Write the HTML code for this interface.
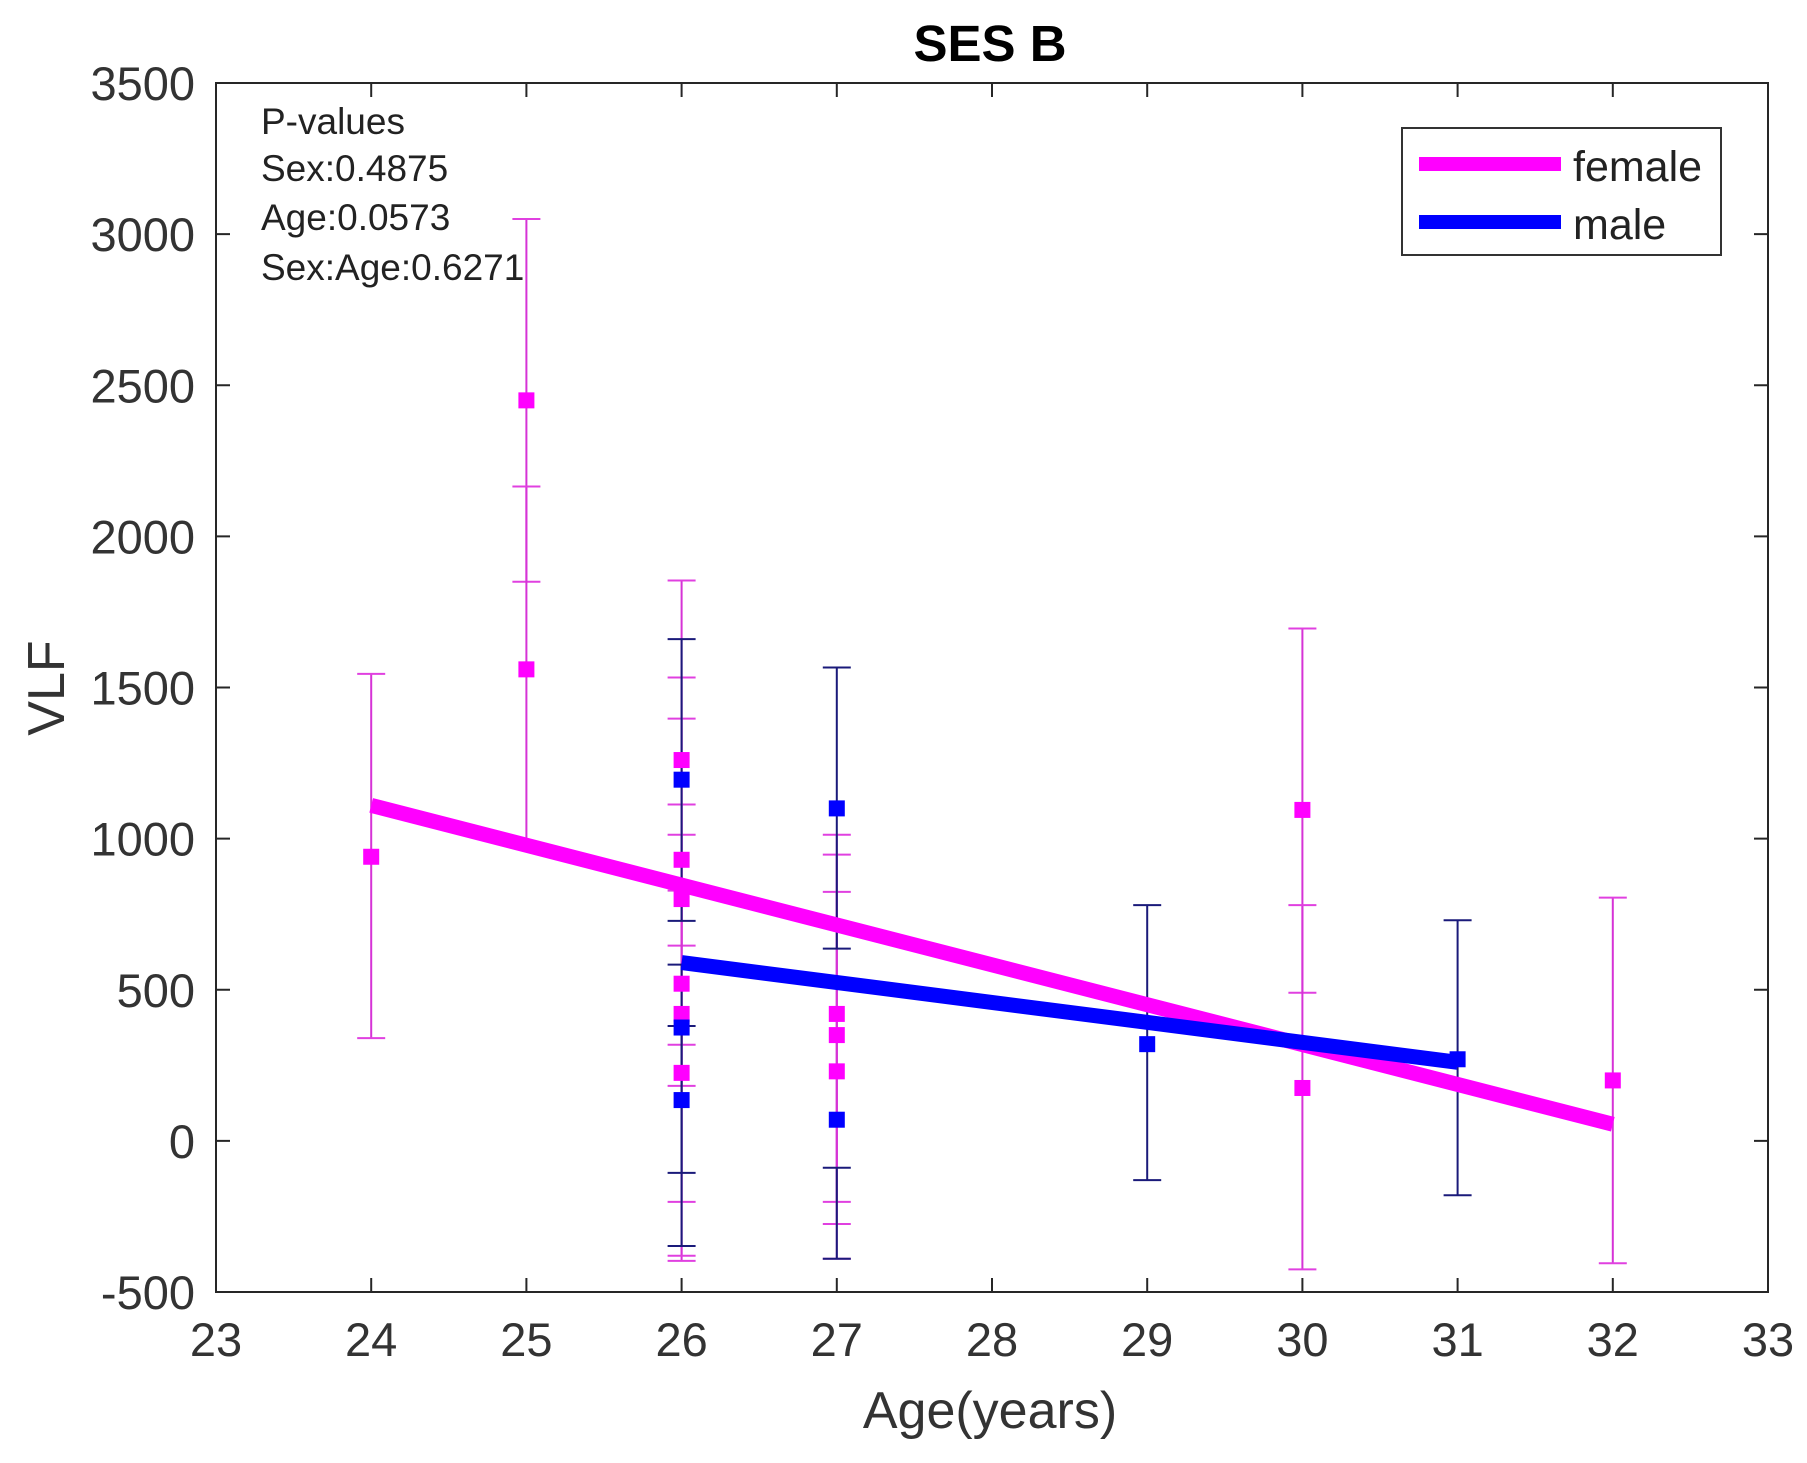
<!DOCTYPE html>
<html><head><meta charset="utf-8"><style>
body{margin:0;background:#fff;}
svg{display:block;font-family:"Liberation Sans",Arial,sans-serif;}
</style></head><body>
<svg id="chart" width="1807" height="1463" viewBox="0 0 1807 1463">
<rect width="1807" height="1463" fill="#fff"/>
<text x="990" y="61" text-anchor="middle" font-size="51" font-weight="bold" fill="#000">SES B</text>
<g id="plot"></g>
<g font-size="37" fill="#222">
<text x="261" y="134">P-values</text>
<text x="261" y="181">Sex:0.4875</text>
<text x="261" y="230">Age:0.0573</text>
<text x="261" y="280">Sex:Age:0.6271</text>
</g>
<text x="990" y="1428" text-anchor="middle" font-size="52" fill="#333">Age(years)</text>
<text transform="translate(64,688) rotate(-90)" text-anchor="middle" font-size="52" fill="#333">VLF</text>
<g>
<rect x="1402" y="128" width="319" height="127" fill="#fff" stroke="#333" stroke-width="2"/>
<line x1="1419" y1="164" x2="1561" y2="164" stroke="#ff00ff" stroke-width="14"/>
<text x="1573" y="181" font-size="43" fill="#222">female</text>
<line x1="1419" y1="222" x2="1561" y2="222" stroke="#0000ff" stroke-width="14"/>
<text x="1573" y="239" font-size="43" fill="#222">male</text>
</g>
</svg>
<script>
const xTicks=[23,24,25,26,27,28,29,30,31,32,33];
const yTicks=[-500,0,500,1000,1500,2000,2500,3000,3500];
const femaleAge=[24,25,25,26,26,26,26,26,26,27,27,27,30,30,32];
const femaleVal=[940,2450,1560,1260,930,800,520,420,225,420,350,230,1095,175,200];
const femaleLow=[340,1850,970,646,318,182,-202,-397,-380,-202,-275,-390,490,-425,-405];
const femaleHigh=[1545,3050,2165,1854,1533,1397,1113,1013,828,1013,947,824,1695,780,805];
const maleAge=[26,26,26,27,27,29,31];
const maleVal=[1195,375,135,1100,70,320,270];
const maleLow=[728,-348,-106,636,-390,-130,-180];
const maleHigh=[1660,583,380,1566,-89,780,730];
const femaleFitX=[24,32];
const femaleFitY=[1110,55];
const maleFitX=[26,31];
const maleFitY=[590,260];

const L=216,R=1768,T=83,B=1292;
const sx=v=>L+(v-23)/10*(R-L);
const sy=v=>B-(v+500)/4000*(B-T);
const NS='http://www.w3.org/2000/svg';
const g=document.getElementById('plot');
function mk(tag,attrs,parent){const e=document.createElementNS(NS,tag);for(const k in attrs)e.setAttribute(k,attrs[k]);(parent||g).appendChild(e);return e;}

const frame=mk('rect',{x:L,y:T,width:R-L,height:B-T,fill:'none',stroke:'#262626','stroke-width':2});



xTicks.forEach(t=>{
  const x=sx(t);
  mk('line',{x1:x,y1:B,x2:x,y2:B-14,stroke:'#262626','stroke-width':2});
  mk('line',{x1:x,y1:T,x2:x,y2:T+14,stroke:'#262626','stroke-width':2});
  const tx=mk('text',{x:x,y:B+64,'text-anchor':'middle','font-size':47,fill:'#333'});
  tx.textContent=t;
  
  
});
yTicks.forEach(t=>{
  const y=sy(t);
  mk('line',{x1:L,y1:y,x2:L+14,y2:y,stroke:'#262626','stroke-width':2});
  mk('line',{x1:R,y1:y,x2:R-14,y2:y,stroke:'#262626','stroke-width':2});
  const ty=mk('text',{x:195,y:y+17,'text-anchor':'end','font-size':47,fill:'#333'});
  ty.textContent=t;
  
  
});

function errbars(ages,vals,lo,hi,lineCol,capCol,name){
  ages.forEach((a,i)=>{
    const x=sx(a);
    const eg=mk('g',{});
    
    
    mk('line',{x1:x,y1:sy(lo[i]),x2:x,y2:sy(hi[i]),stroke:lineCol,'stroke-width':2},eg);
    mk('line',{x1:x-14,y1:sy(lo[i]),x2:x+14,y2:sy(lo[i]),stroke:capCol,'stroke-width':2},eg);
    mk('line',{x1:x-14,y1:sy(hi[i]),x2:x+14,y2:sy(hi[i]),stroke:capCol,'stroke-width':2},eg);
  });
}
function markers(ages,vals,col,name){
  ages.forEach((a,i)=>{
    const m=mk('rect',{x:sx(a)-8,y:sy(vals[i])-8,width:16,height:16,fill:col});
    
    
  });
}
errbars(femaleAge,femaleVal,femaleLow,femaleHigh,'#d633d6','#e040e0','female');
errbars(maleAge,maleVal,maleLow,maleHigh,'#1a1a7a','#1a1a7a','male');

const fl=mk('line',{x1:sx(femaleFitX[0]),y1:sy(femaleFitY[0]),x2:sx(femaleFitX[1]),y2:sy(femaleFitY[1]),stroke:'#ff00ff','stroke-width':15});


const ml=mk('line',{x1:sx(maleFitX[0]),y1:sy(maleFitY[0]),x2:sx(maleFitX[1]),y2:sy(maleFitY[1]),stroke:'#0000ff','stroke-width':15});



markers(femaleAge,femaleVal,'#ff00ff','female');
markers(maleAge,maleVal,'#0000ff','male');
</script>
</body></html>
